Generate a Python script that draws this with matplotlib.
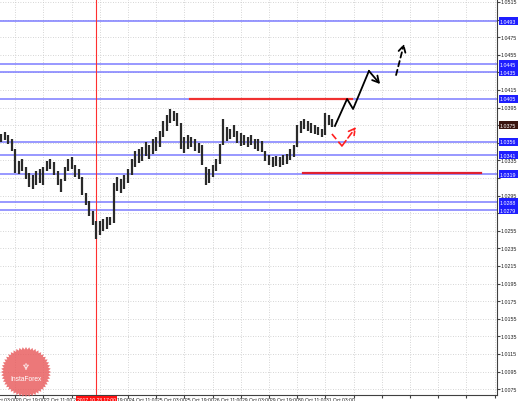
import matplotlib
matplotlib.use("Agg")
import matplotlib.pyplot as plt
import matplotlib.transforms as mtransforms
import numpy as np

# ---------------- data ----------------
# 2-hour bars; x unit = hours (bars) from 20 Oct 03:00
bar_hours = list(range(8, 198, 2))
bar_high = [1.03650, 1.03673, 1.03639, 1.03593, 1.03479, 1.03343, 1.03366, 1.03275,
            1.03207, 1.03184, 1.03230, 1.03252, 1.03275, 1.03343, 1.03366, 1.03332,
            1.03230, 1.03138, 1.03275, 1.03366, 1.03389, 1.03298, 1.03252, 1.03161,
            1.02979, 1.02888, 1.02775, 1.02661, 1.02661, 1.02684, 1.02707, 1.02707,
            1.03093, 1.03161, 1.03138, 1.03184, 1.03252, 1.03366, 1.03457, 1.03479,
            1.03502, 1.03559, 1.03525, 1.03593, 1.03616, 1.03684, 1.03798, 1.03866,
            1.03934, 1.03911, 1.03888, 1.03775, 1.03616, 1.03639, 1.03616, 1.03593,
            1.03548, 1.03525, 1.03275, 1.03252, 1.03298, 1.03366, 1.03536, 1.03820,
            1.03729, 1.03707, 1.03752, 1.03684, 1.03661, 1.03639, 1.03616, 1.03639,
            1.03593, 1.03593, 1.03571, 1.03457, 1.03411, 1.03389, 1.03400, 1.03389,
            1.03411, 1.03423, 1.03479, 1.03525, 1.03752, 1.03798, 1.03820, 1.03798,
            1.03775, 1.03752, 1.03729, 1.03707, 1.03888, 1.03866, 1.03820]
bar_low = [1.03559, 1.03582, 1.03536, 1.03457, 1.03207, 1.03195, 1.03230, 1.03138,
           1.03048, 1.03025, 1.03070, 1.03093, 1.03070, 1.03230, 1.03252, 1.03184,
           1.03070, 1.02991, 1.03116, 1.03230, 1.03252, 1.03161, 1.03138, 1.02957,
           1.02843, 1.02718, 1.02616, 1.02457, 1.02502, 1.02548, 1.02570, 1.02616,
           1.02638, 1.03002, 1.02979, 1.03025, 1.03093, 1.03184, 1.03275, 1.03321,
           1.03343, 1.03400, 1.03366, 1.03423, 1.03457, 1.03502, 1.03616, 1.03684,
           1.03775, 1.03798, 1.03741, 1.03479, 1.03434, 1.03479, 1.03502, 1.03457,
           1.03434, 1.03298, 1.03070, 1.03093, 1.03161, 1.03230, 1.03309, 1.03525,
           1.03571, 1.03593, 1.03616, 1.03548, 1.03514, 1.03525, 1.03502, 1.03525,
           1.03479, 1.03457, 1.03445, 1.03343, 1.03298, 1.03275, 1.03286, 1.03275,
           1.03298, 1.03309, 1.03355, 1.03389, 1.03502, 1.03661, 1.03707, 1.03684,
           1.03661, 1.03650, 1.03639, 1.03616, 1.03639, 1.03752, 1.03729]

current_price = 1.03752

blue_levels = [1.04934, 1.04445, 1.04354, 1.04048, 1.03559, 1.03411, 1.03195, 1.02877, 1.02786]

resist_price = 1.04048
resist_hours = [115.2, 207.1]
support_price = 1.03207
support_hours = [179.3, 280.3]

vline_hour = 62
vline_label = "2017.10.23 17:00"

# forecast paths
fc_solid_hours = [197.4, 204.3, 207.7, 216.7, 223.0]
fc_solid_prices = [1.03741, 1.04048, 1.03934, 1.04366, 1.04218]
fc_dash_hours = [232.1, 236.6]
fc_dash_prices = [1.04320, 1.04673]
fc_red_hours = [195.7, 201.4, 209.4]
fc_red_prices = [1.03650, 1.03514, 1.03729]

tick_hours = [0, 16, 32, 48, 64, 80, 96, 112, 128, 144, 160, 176, 192]
tick_labels = ["20 Oct 03:00", "20 Oct 19:00", "22 Oct 11:00", "23 Oct 03:00",
               "23 Oct 19:00", "24 Oct 11:00", "25 Oct 03:00", "25 Oct 19:00",
               "26 Oct 11:00", "29 Oct 03:00", "29 Oct 19:00", "30 Oct 11:00",
               "31 Oct 03:00"]
grid_hours = list(range(0, 290, 16))
price_ticks = [round(1.0075 + 0.002 * i, 4) for i in range(23)]

XLIM = (7.376, 289.36)
YLIM = (1.00684, 1.05184)

# ---------------- figure ----------------
narrow_font = ["Liberation Sans Narrow", "Liberation Sans", "DejaVu Sans"]
price_font = ["Liberation Sans", "DejaVu Sans"]
W, H = 519, 402
fig = plt.figure(figsize=(W / 100, H / 100), dpi=100)
ax = fig.add_axes([0, 6 / H, 497 / W, 396 / H])

for s in ["left", "top"]:
    ax.spines[s].set_visible(False)
for s in ["right", "bottom"]:
    ax.spines[s].set_color("#404040")
    ax.spines[s].set_linewidth(0.8)

ax.set_xticks(grid_hours)
ax.set_xticklabels([])
ax.tick_params(axis="x", length=2, color="#404040")
ax.yaxis.tick_right()
ax.set_yticks(price_ticks)
ax.set_yticklabels([])
ax.tick_params(axis="y", length=2, color="#404040")
ax.grid(True, color="#c8c8c8", linestyle=(0, (1, 2)), linewidth=0.6)
ax.set_axisbelow(True)
ax.set_xlim(*XLIM)
ax.set_ylim(*YLIM)

# blue levels
for lv in blue_levels:
    ax.axhline(lv, color="#7c7cff", linewidth=1.1, zorder=2)

# red vertical line
ax.axvline(vline_hour, color="#ff3030", linewidth=0.8, zorder=2)

# red horizontal lines
ax.plot(resist_hours, [resist_price] * 2, color="#f03030", linewidth=1.6, zorder=3)
ax.plot(support_hours, [support_price] * 2, color="#e02030", linewidth=1.6, zorder=3)

# price bars
ax.vlines(bar_hours, bar_low, bar_high, color="#2a2a2a", linewidth=1.6, zorder=4)

# forecast arrows
ax.plot(fc_solid_hours[:-1], fc_solid_prices[:-1], color="black", linewidth=1.3, zorder=5)
ax.annotate("", xy=(fc_solid_hours[-1], fc_solid_prices[-1]),
            xytext=(fc_solid_hours[-2], fc_solid_prices[-2]),
            arrowprops=dict(arrowstyle="->,head_length=0.45,head_width=0.25",
                            color="black", lw=1.3, shrinkA=0, shrinkB=0), zorder=5)
ax.annotate("", xy=(fc_dash_hours[-1], fc_dash_prices[-1]),
            xytext=(fc_dash_hours[0], fc_dash_prices[0]),
            arrowprops=dict(arrowstyle="->,head_length=0.45,head_width=0.25",
                            color="black", lw=1.3, linestyle=(0, (3, 2)),
                            shrinkA=0, shrinkB=0), zorder=5)
ax.plot(fc_red_hours[:-1], fc_red_prices[:-1], color="#ff2020", linewidth=1.2,
        linestyle=(0, (4, 2)), zorder=5)
ax.annotate("", xy=(fc_red_hours[-1], fc_red_prices[-1]),
            xytext=(fc_red_hours[-2], fc_red_prices[-2]),
            arrowprops=dict(arrowstyle="->,head_length=0.45,head_width=0.25",
                            color="#ff2020", lw=1.2, linestyle=(0, (4, 2)),
                            shrinkA=0, shrinkB=0), zorder=5)

# x tick labels (left aligned at the tick, MT4 style)
trans_x = mtransforms.blended_transform_factory(ax.transData, ax.transAxes)
for h, lab in zip(tick_hours, tick_labels):
    ax.text(h + 0.6, -0.005, lab, transform=trans_x, fontsize=3.6, ha="left",
            va="top", color="#202020", clip_on=False, family=narrow_font, zorder=8)
ax.text(vline_hour, -0.005, vline_label, transform=trans_x, fontsize=3.6, ha="center",
        va="top", color="white", clip_on=False, zorder=10, family=narrow_font,
        bbox=dict(boxstyle="square,pad=0.25", fc="#ff1010", ec="none"))

# y tick labels (those hidden under a price tag are skipped)
trans_y = mtransforms.blended_transform_factory(ax.transAxes, ax.transData)
tag_prices = blue_levels + [current_price]
for p in price_ticks:
    if min(abs(p - t) for t in tag_prices) < 0.0005:
        continue
    ax.text(1.008, p, f"{p:.4f}", transform=trans_y, fontsize=3.8, ha="left",
            va="center", color="#202020", clip_on=False, family=price_font)

# price tags on the right axis
for lv in blue_levels:
    ax.text(1.006, lv, f"{lv:.4f}", transform=trans_y, fontsize=3.8, ha="left",
            va="center", color="white", clip_on=False, zorder=10, family=price_font,
            bbox=dict(boxstyle="square,pad=0.25", fc="#1e1eff", ec="none"))
ax.text(1.006, current_price, f"{current_price:.4f}", transform=trans_y, fontsize=3.8,
        ha="left", va="center", color="white", clip_on=False, zorder=10,
        family=price_font,
        bbox=dict(boxstyle="square,pad=0.25", fc="#3a1510", ec="none"))

# InstaForex seal (decoration)
lax = fig.add_axes([1 / W, (402 - 398) / H, 50 / W, 50 / H])
lax.set_xlim(-1, 1)
lax.set_ylim(-1, 1)
lax.axis("off")
n = 48
ang = np.linspace(0, 2 * np.pi, 2 * n, endpoint=False)
rad = np.where(np.arange(2 * n) % 2 == 0, 1.0, 0.9)
lax.fill(rad * np.cos(ang), rad * np.sin(ang), color="#e85a5c", alpha=0.82, lw=0)
lax.text(0, -0.28, "InstaForex", color="white", fontsize=4.8, ha="center", va="center",
         family=price_font)
lax.text(0, 0.22, "♆", color="white", fontsize=6.5, ha="center", va="center",
         family=["DejaVu Sans"])

fig.savefig("out.png", dpi=100)
